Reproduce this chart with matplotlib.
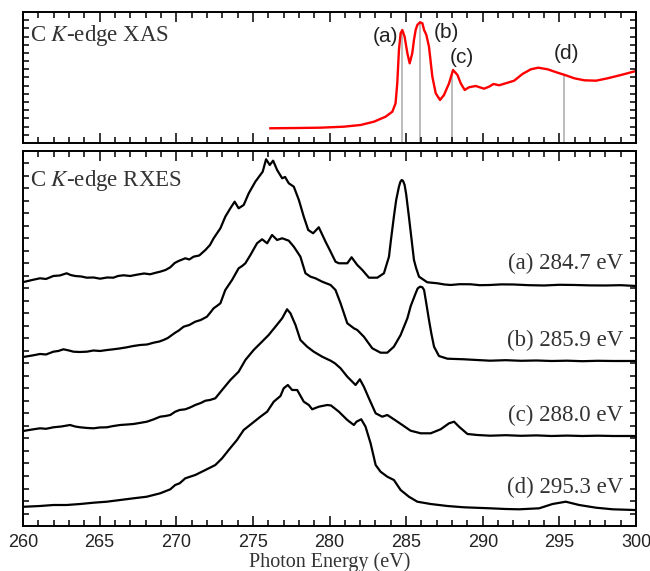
import numpy as np
import matplotlib.pyplot as plt
from matplotlib.ticker import MultipleLocator

plt.rcParams['mathtext.fontset'] = 'stix'

# ---- C K-edge XAS (top panel), intensity in arb. units ----
xas_e = [276.14, 278.0, 279.41, 280.94, 282.03, 282.9, 283.66, 284.1, 284.31, 284.42,
         284.53, 284.64, 284.75, 284.9, 285.08, 285.23, 285.4, 285.51, 285.62, 285.73,
         285.9, 286.06, 286.17, 286.32, 286.49, 286.71, 286.93, 287.21, 287.47, 287.8,
         288.06, 288.35, 288.56, 288.82, 289.1, 289.54, 290.08, 290.41, 290.7, 291.07,
         291.5, 292.05, 292.59, 293.14, 293.62, 294.23, 294.88, 295.36, 295.97, 296.62,
         297.39, 298.15, 299.02, 300.0]
xas_i = [14.7, 15.0, 15.3, 16.3, 18, 21.3, 26.3, 31.3, 39.7, 59.7,
         93, 109.7, 113, 106.3, 89.7, 79.7, 89.7, 103, 113, 118,
         120.7, 119.7, 113, 108, 96.3, 66.3, 49.7, 43, 48, 59.7,
         73, 68, 59.7, 53, 55.7, 57, 54.3, 56.3, 59, 57.7,
         59.7, 62.3, 69, 73.7, 75.3, 73.7, 70.3, 68, 64.7, 62.7,
         62.3, 64.7, 68, 72]

# excitation energies
exc_e = [284.7, 285.9, 288.0, 295.3]
exc_tags = ['(a)', '(b)', '(c)', '(d)']
tag_x = [283.63, 287.6, 288.65, 295.49]
tag_y = [106.5, 110, 85, 89]

# ---- C K-edge RXES (bottom panel), offset spectra ----
e_a = [260.13, 260.6, 261.11, 261.5, 261.98, 262.4, 262.85, 263.1, 263.4, 263.8,
       264.16, 264.6, 265.03, 265.5, 265.9, 266.2, 266.56, 267.0, 267.43, 267.9,
       268.3, 268.6, 268.95, 269.3, 269.61, 269.9, 270.15, 270.59, 270.85, 271.13,
       271.5, 271.9, 272.2, 272.44, 272.88, 273.2, 273.53, 273.81, 274.07, 274.4,
       274.73, 275.16, 275.64, 275.86, 276.1, 276.32, 276.58, 276.91, 277.1, 277.34,
       277.67, 278.0, 278.32, 278.61, 278.93, 279.3, 279.74, 280.07, 280.39, 280.61,
       281.16, 281.44, 281.81, 282.14, 282.57, 283.12, 283.55, 283.88, 284.0, 284.2,
       284.35, 284.53, 284.62, 284.71, 284.8, 284.9, 285.0, 285.18, 285.35, 285.51,
       285.65, 285.84, 286.38, 287.04, 287.5, 287.91, 288.5, 289.22, 289.8, 290.48,
       291.2, 292.0, 293.0, 294.0, 295.0, 296.0, 297.0, 298.0, 299.0, 300.0]
i_a = [244.3, 246, 247.7, 247, 250, 250.5, 252.7, 251, 250, 249.5,
       248.3, 248.5, 247.3, 248.5, 248.3, 250, 250.7, 250, 251.3, 252.5,
       251.7, 253, 254.3, 256, 258.7, 263, 265, 267.7, 266.5, 269.3,
       270.5, 276, 281, 287.7, 297.7, 309.3, 317.7, 324.3, 317.7, 321,
       332.7, 344.3, 354.3, 366.7, 361, 365.3, 356, 347.7, 349, 342.7,
       339.3, 326, 309.3, 296, 292.7, 298.7, 284.3, 274.3, 264.3, 262.7,
       262.7, 268.7, 261, 256, 248.3, 248.3, 252.7, 269.3, 285, 309.3,
       326, 339.3, 344, 346, 345, 341, 332, 309.3, 287, 266,
       258, 249.3, 243.7, 242.7, 241.5, 241, 241.8, 241.7, 240.8, 241,
       241.6, 241.5, 240.8, 240.5, 241.2, 241, 240.6, 240.5, 240.8, 240]

e_b = [260.13, 260.6, 261.11, 261.5, 261.98, 262.3, 262.64, 263.0, 263.29, 263.7,
       264.16, 264.6, 265.03, 265.5, 265.9, 266.3, 266.78, 267.2, 267.65, 268.1,
       268.52, 268.9, 269.17, 269.45, 269.72, 269.93, 270.15, 270.48, 270.85, 271.24,
       271.6, 272.0, 272.2, 272.44, 272.65, 272.88, 273.2, 273.64, 274.07, 274.3,
       274.51, 274.84, 275.27, 275.6, 275.93, 276.25, 276.58, 276.91, 277.34, 277.67,
       278.1, 278.43, 278.76, 279.08, 279.52, 280.07, 280.39, 280.72, 281.16, 281.59,
       281.81, 282.24, 282.79, 283.33, 283.77, 284.2, 284.64, 285.08, 285.3, 285.62,
       285.75, 285.9, 286.05, 286.17, 286.3, 286.49, 286.65, 286.82, 287.14, 287.69,
       288.78, 289.6, 290.48, 291.5, 292.5, 293.5, 294.5, 295.5, 296.5, 297.5,
       298.5, 300.0]
i_b = [169.3, 170.5, 172, 171.5, 174.3, 175, 176.7, 175.5, 174.3, 174,
       174.3, 175.5, 175, 176, 176.7, 177.5, 178.7, 180, 181, 181.5,
       183.3, 184.5, 186, 188, 191, 193.3, 195.3, 199.3, 201, 204.3,
       206, 209.3, 213, 217.7, 220, 222.7, 236, 246, 257.7, 260,
       262.7, 271, 282.7, 286.7, 282.7, 291, 286, 287.7, 285.3, 279.3,
       269.3, 252.7, 249.3, 247.7, 244.3, 241, 236, 222.7, 202.7, 197.7,
       196, 189.3, 177.7, 173.3, 173.3, 179.3, 191, 207.7, 220, 232.7,
       237.5, 239.3, 238.8, 236, 224, 206, 192, 179.3, 170, 167.3,
       166.7, 166, 165.3, 165.8, 165.2, 165.5, 165, 165.3, 164.8, 165.2,
       165, 165]

e_c = [260.13, 260.6, 261.11, 261.5, 261.98, 262.5, 263.07, 263.4, 263.73, 264.2,
       264.6, 265.0, 265.47, 265.9, 266.34, 266.8, 267.21, 267.6, 268.08, 268.5,
       268.95, 269.3, 269.61, 269.93, 270.22, 270.59, 270.9, 271.24, 271.6, 271.9,
       272.2, 272.55, 272.99, 273.53, 274.07, 274.51, 275.05, 275.49, 276.03, 276.47,
       276.91, 277.23, 277.45, 277.78, 278.1, 278.54, 278.97, 279.52, 280.07, 280.35,
       280.72, 281.16, 281.7, 281.98, 282.24, 282.57, 283.01, 283.44, 283.77, 284.2,
       284.75, 285.29, 285.95, 286.6, 287.25, 287.8, 288.13, 288.45, 289.0, 289.65,
       290.48, 291.5, 292.5, 293.5, 294.5, 295.5, 296.5, 297.5, 298.5, 300.0]
i_c = [95.3, 96.5, 97.7, 97.2, 98.7, 99.5, 101, 99.5, 98.7, 98,
       97.7, 98.5, 98.7, 100, 101, 101.5, 102, 103, 104.3, 106.5,
       109.3, 110, 111, 114.3, 116, 116.7, 118.5, 121, 123, 125.3,
       126, 127.7, 136, 146, 154.3, 166, 176, 182.7, 191, 199.3,
       207.7, 216.7, 212.7, 201, 186, 179.3, 174.3, 169.3, 165.3, 162.7,
       157.7, 149.3, 141, 146.7, 139.3, 127.7, 112.7, 109.3, 111, 106.7,
       101, 95.3, 92.7, 92.7, 96.7, 102.7, 104.3, 99.3, 92, 91,
       90.3, 90.8, 90.2, 90.6, 90, 90.4, 90, 90.3, 90, 90]

e_d = [260.13, 261.11, 261.98, 262.85, 263.73, 264.6, 265.47, 266.34, 267.21, 268.08,
       268.95, 269.61, 269.93, 270.22, 270.59, 271.24, 271.9, 272.55, 272.99, 273.42,
       273.96, 274.4, 274.95, 275.49, 275.93, 276.36, 276.8, 277.01, 277.28, 277.56,
       277.89, 278.32, 278.65, 278.87, 279.3, 279.85, 280.1, 280.61, 281.16, 281.59,
       281.76, 282.07, 282.35, 282.68, 283.01, 283.33, 283.77, 284.2, 284.64, 285.18,
       285.73, 286.6, 287.69, 288.78, 290.48, 291.5, 292.37, 293.68, 294.55, 295.42,
       296.29, 297.39, 298.48, 299.9]
i_d = [19.3, 20, 21, 21, 22, 23.3, 24.3, 26, 27.7, 29.3,
       32.7, 36.7, 41, 42.7, 47.7, 51, 56, 61, 67.7, 76,
       86, 96, 102.7, 109.3, 114.3, 124.3, 130, 137.7, 141, 136,
       136, 124.3, 121, 116.7, 119.3, 121, 120.5, 114.3, 106, 101,
       104.3, 106.7, 99.3, 82.7, 61, 54.3, 49.3, 46, 36, 29.3,
       24.3, 22, 20, 18.7, 17.7, 17, 16.7, 17.7, 22, 24.3,
       21, 18.3, 16.7, 16]

rxes_e = [e_a, e_b, e_c, e_d]
rxes_i = [i_a, i_b, i_c, i_d]
rxes_labels = ['(a) 284.7 eV', '(b) 285.9 eV', '(c) 288.0 eV', '(d) 295.3 eV']
label_y = [263, 186, 111, 39]

serif = 'Liberation Serif'
sans = 'Liberation Sans'


def style_axes(ax, ymax, nyticks):
    ax.set_xlim(260, 300)
    ax.set_ylim(0, ymax)
    ax.xaxis.set_major_locator(MultipleLocator(5))
    ax.xaxis.set_minor_locator(MultipleLocator(1))
    ax.set_yticks([])
    ax.set_yticks(np.linspace(0, ymax, nyticks + 1)[1:-1], minor=True)
    ax.tick_params(which='both', direction='in', top=True, right=True,
                   width=1.1, colors='black')
    ax.tick_params(which='major', length=7)
    ax.tick_params(which='minor', length=4)
    ax.tick_params(axis='x', labelsize=13, labelcolor='#222222', pad=6)
    for lab in ax.get_xticklabels():
        lab.set_family(sans)
    for sp in ax.spines.values():
        sp.set_linewidth(1.4)


fig = plt.figure(figsize=(6.5, 5.71), dpi=100)
ax1 = fig.add_axes([0.0354, 0.7496, 0.9431, 0.2294])
ax2 = fig.add_axes([0.0354, 0.0788, 0.9431, 0.6568])

# top: XAS
ax1.plot(xas_e, xas_i, color='#ff0000', lw=1.7)
for e in exc_e:
    ax1.plot([e, e], [0, np.interp(e, xas_e, xas_i)], color='#aaaaaa', lw=1.1, zorder=1)
for t, x, y in zip(exc_tags, tag_x, tag_y):
    ax1.text(x, y, t, family=sans, fontsize=15, color='#222222', ha='center', va='center')
ax1.text(0.012, 0.82, r'C $K$-edge XAS', transform=ax1.transAxes, family=serif,
         fontsize=16.5, color='#333333', va='center')
style_axes(ax1, 131, 16)
ax1.tick_params(axis='x', labelbottom=False)

# bottom: RXES
for e, i in zip(rxes_e, rxes_i):
    ax2.plot(e, i, color='black', lw=1.6)
for lab, y in zip(rxes_labels, label_y):
    ax2.text(299.15, y, lab, family=serif, fontsize=16.5, color='#333333',
             ha='right', va='center')
ax2.text(0.012, 0.92, r'C $K$-edge RXES', transform=ax2.transAxes, family=serif,
         fontsize=16.5, color='#333333', va='center')
style_axes(ax2, 375, 30)
ax2.set_xlabel('Photon Energy (eV)', family=serif, fontsize=14.5, color='#333333', labelpad=1)

fig.savefig('out.png', dpi=100)
